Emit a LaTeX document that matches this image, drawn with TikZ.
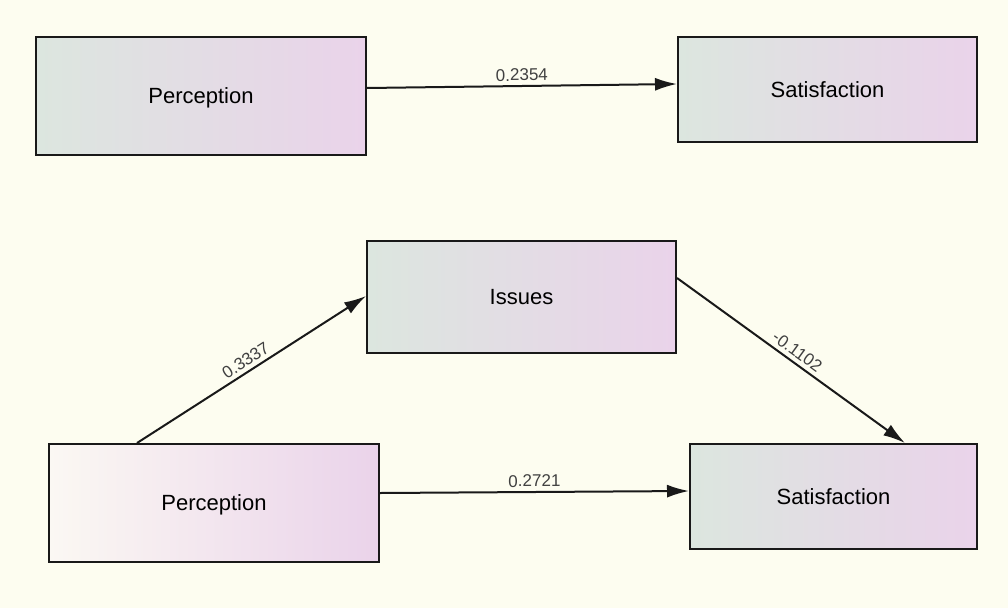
\documentclass[tikz,border=0pt]{standalone}
\usepackage{fontspec}
\setmainfont{Liberation Sans}
\usetikzlibrary{arrows.meta,calc}
\definecolor{canvas}{HTML}{FDFDF0}
\definecolor{boxleft}{HTML}{DCE6DF}
\definecolor{boxright}{HTML}{EAD3EA}
\definecolor{paleleft}{HTML}{FBF8F3}
\tikzset{
  construct/.style={draw=black!90, line width=2pt, rectangle, inner sep=0pt,
    left color=boxleft, right color=boxright,
    font=\fontsize{22}{26}\selectfont},
  path/.style={draw=black!90, line width=2pt,
    -{Latex[length=22pt,width=13pt]}},
  coef/.style={font=\fontsize{17}{20}\selectfont, text=black!75,
    sloped, above, midway, inner sep=4pt}
}
\begin{document}
\begin{tikzpicture}[x=1pt,y=-1pt]
  \fill[canvas] (0,0) rectangle (1008,608);
  \useasboundingbox (0,0) rectangle (1008,608);

  % simple model
  \node[construct, minimum width=330pt, minimum height=118pt, text depth=0pt] (p1) at (201,96) {Perception};
  \node[construct, minimum width=299pt, minimum height=105pt] (s1) at (827.5,89.5) {Satisfaction};

  % mediation model
  \node[construct, minimum width=309pt, minimum height=112pt] (iss) at (521.5,297) {Issues};
  \node[construct, left color=paleleft, minimum width=330pt, minimum height=118pt, text depth=0pt] (p2) at (214,503) {Perception};
  \node[construct, minimum width=287pt, minimum height=105pt] (s2) at (833.5,496.5) {Satisfaction};

  \draw[path] ($(p1.east)+(0,-8)$) -- node[coef] {0.2354} ($(s1.west)+(0,-5.5)$);
  \draw[path] ($(p2.north)+(-77,0)$) -- node[coef] {0.3337} ($(iss.west)+(0,-1)$);
  \draw[path] ($(iss.east)+(0,-19)$) -- node[coef] {-0.1102} ($(s2.north)+(71.5,0)$);
  \draw[path] ($(p2.east)+(0,-10)$) -- node[coef] {0.2721} ($(s2.west)+(0,-5.5)$);
\end{tikzpicture}
\end{document}
